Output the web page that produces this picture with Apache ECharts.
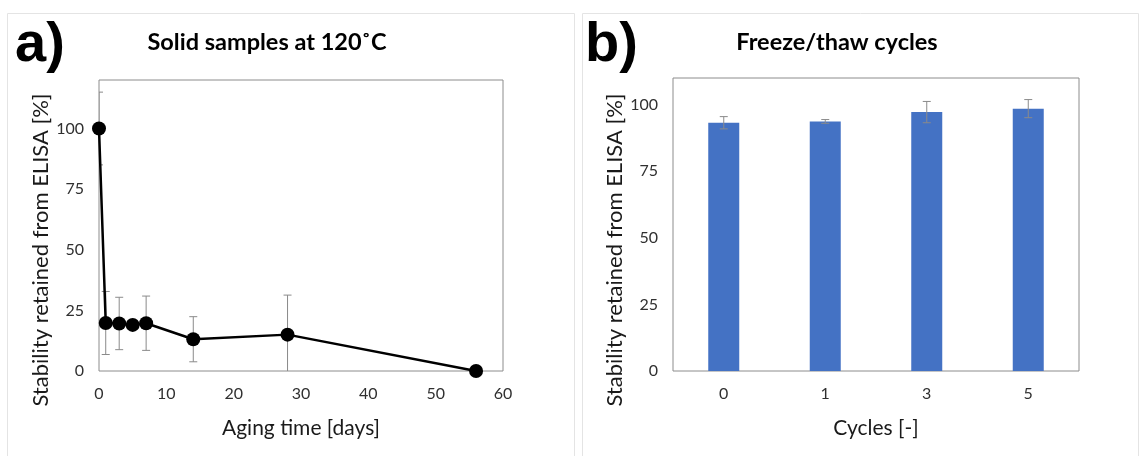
<!DOCTYPE html>
<html>
<head>
<meta charset="utf-8">
<title>Stability retained from ELISA</title>
<script src="https://cdn.jsdelivr.net/npm/echarts@6/dist/echarts.min.js"></script>
<style>
  html, body { margin: 0; padding: 0; background: #ffffff; }
  #chart { width: 1141px; height: 456px; }
</style>
</head>
<body>
<div id="chart"></div>
<script>
// Panel a: solid samples aged at 120 °C
const agingDays = [0, 1, 3, 5, 7, 14, 28, 56];
const agingStability = [100, 19.8, 19.6, 19.0, 19.7, 13.1, 15.0, 0];
const agingError = [15, 13, 10.8, 0.5, 11.2, 9.3, 16.3, 0];

// Panel b: freeze/thaw cycles
const cycleLabels = ['0', '1', '3', '5'];
const cycleStability = [93.2, 93.7, 97.2, 98.5];
const cycleError = [2.3, 0.7, 4.0, 3.4];

const yTickValues = [0, 25, 50, 75, 100];

const FONT = 'Lato, "Open Sans", sans-serif';
const TICK_COLOR = '#303030';
const ERR_COLOR = '#8a8a8a';
const Y_TITLE = 'Stability retained from ELISA [%]';

function errorBarItem(capHalf) {
  return function (params, api) {
    const x = api.value(0);
    const lo = api.value(1);
    const hi = api.value(2);
    const pHi = api.coord([x, hi]);
    const pLo = api.coord([x, lo]);
    const style = { stroke: ERR_COLOR, lineWidth: 1, fill: null };
    return {
      type: 'group',
      children: [
        { type: 'line', shape: { x1: pHi[0], y1: pHi[1], x2: pLo[0], y2: pLo[1] }, style },
        { type: 'line', shape: { x1: pHi[0] - capHalf, y1: pHi[1], x2: pHi[0] + capHalf, y2: pHi[1] }, style },
        { type: 'line', shape: { x1: pLo[0] - capHalf, y1: pLo[1], x2: pLo[0] + capHalf, y2: pLo[1] }, style }
      ]
    };
  };
}

const agingErrData = agingDays.map((d, i) => [d, agingStability[i] - agingError[i], agingStability[i] + agingError[i]]);
const cycleErrData = cycleLabels.map((c, i) => [i, cycleStability[i] - cycleError[i], cycleStability[i] + cycleError[i]]);

const axisNameStyle = { fontFamily: FONT, fontSize: 21, color: '#1a1a1a', verticalAlign: 'middle' };
const tickStyle = { fontFamily: FONT, fontSize: 16, color: TICK_COLOR };
const yTickFormatter = v => (yTickValues.indexOf(v) >= 0 ? String(v) : '');

function yTitle(cx) {
  return {
    type: 'text', x: cx, y: 250, rotation: Math.PI / 2,
    style: { text: Y_TITLE, font: '22px ' + FONT, fill: '#1a1a1a', align: 'center', verticalAlign: 'middle' },
    silent: true
  };
}

const chart = echarts.init(document.getElementById('chart'), null, { renderer: 'canvas' });

chart.setOption({
  backgroundColor: '#ffffff',
  animation: false,
  graphic: [
    { type: 'rect', shape: { x: 7.5, y: 13.5, width: 567, height: 470 }, style: { fill: null, stroke: '#e4e4e4', lineWidth: 1 }, silent: true },
    { type: 'rect', shape: { x: 582.5, y: 13.5, width: 556, height: 470 }, style: { fill: null, stroke: '#e4e4e4', lineWidth: 1 }, silent: true },
    { type: 'text', left: 15, top: 18, style: { text: 'a)', font: 'bold 56px "Liberation Sans", Arial, sans-serif', fill: '#000000' } },
    { type: 'text', left: 585, top: 18, style: { text: 'b)', font: 'bold 56px "Liberation Sans", Arial, sans-serif', fill: '#000000' } },
    { type: 'text', x: 267, y: 42, style: { text: 'Solid samples at 120˚C', font: 'bold 23.5px ' + FONT, fill: '#000000', align: 'center', verticalAlign: 'middle' } },
    { type: 'text', x: 837, y: 42, style: { text: 'Freeze/thaw cycles', font: 'bold 23.5px ' + FONT, fill: '#000000', align: 'center', verticalAlign: 'middle' } },
    yTitle(41),
    yTitle(615)
  ],
  grid: [
    { left: 99, right: 638, top: 80, bottom: 85, show: true, borderColor: '#8c8c8c', borderWidth: 1, backgroundColor: 'transparent' },
    { left: 673, right: 62, top: 78, bottom: 85, show: true, borderColor: '#8c8c8c', borderWidth: 1, backgroundColor: 'transparent' }
  ],
  xAxis: [
    {
      gridIndex: 0, type: 'value', min: 0, max: 60, interval: 10,
      name: 'Aging time [days]', nameLocation: 'middle', nameGap: 57, nameTextStyle: axisNameStyle,
      axisLine: { show: false }, axisTick: { show: false }, splitLine: { show: false },
      axisLabel: Object.assign({ margin: 15 }, tickStyle)
    },
    {
      gridIndex: 1, type: 'category', data: cycleLabels,
      name: 'Cycles [-]', nameLocation: 'middle', nameGap: 57, nameTextStyle: axisNameStyle,
      axisLine: { show: false }, axisTick: { show: false }, splitLine: { show: false },
      axisLabel: Object.assign({ margin: 15 }, tickStyle)
    }
  ],
  yAxis: [
    {
      gridIndex: 0, type: 'value', min: 0, max: 120, interval: 25,
      axisLine: { show: false }, axisTick: { show: false }, splitLine: { show: false },
      axisLabel: Object.assign({ margin: 15, showMaxLabel: false, formatter: yTickFormatter }, tickStyle)
    },
    {
      gridIndex: 1, type: 'value', min: 0, max: 110, interval: 25,
      axisLine: { show: false }, axisTick: { show: false }, splitLine: { show: false },
      axisLabel: Object.assign({ margin: 15, showMaxLabel: false, formatter: yTickFormatter }, tickStyle)
    }
  ],
  series: [
    {
      name: 'Error a', type: 'custom', xAxisIndex: 0, yAxisIndex: 0,
      renderItem: errorBarItem(4), data: agingErrData, clip: true, z: 1, silent: true
    },
    {
      name: 'Solid samples', type: 'line', xAxisIndex: 0, yAxisIndex: 0,
      data: agingDays.map((d, i) => [d, agingStability[i]]),
      symbol: 'circle', symbolSize: 14, showAllSymbols: true,
      lineStyle: { color: '#000000', width: 2.5 },
      itemStyle: { color: '#000000' },
      clip: false, z: 3
    },
    {
      name: 'Freeze/thaw', type: 'bar', xAxisIndex: 1, yAxisIndex: 1,
      data: cycleStability, barWidth: 31,
      itemStyle: { color: '#4472C4' }, z: 2
    },
    {
      name: 'Error b', type: 'custom', xAxisIndex: 1, yAxisIndex: 1,
      renderItem: errorBarItem(4), data: cycleErrData, clip: true, z: 4, silent: true
    }
  ]
});
</script>
</body>
</html>
